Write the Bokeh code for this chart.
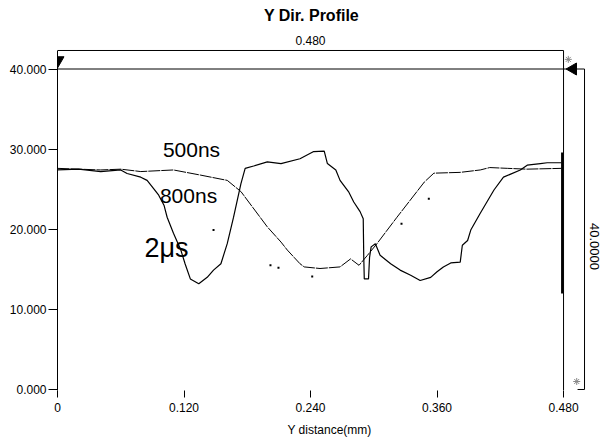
import math
from bokeh.plotting import figure
from bokeh.models import FixedTicker, Label, Range1d, ColumnDataSource
from bokeh.core.properties import value
from bokeh.embed import file_html
from bokeh.resources import INLINE

# ---- data ----
x_ticks = [0, 0.12, 0.24, 0.36, 0.48]
x_tick_labels = ["0", "0.120", "0.240", "0.360", "0.480"]
y_ticks = [0, 10, 20, 30, 40]
y_tick_labels = ["0.000", "10.000", "20.000", "30.000", "40.000"]

solid_x = [0.000, 0.020, 0.041, 0.060, 0.066, 0.079, 0.085, 0.091, 0.096, 0.101,
           0.104, 0.110, 0.117, 0.121, 0.126, 0.134, 0.142, 0.148, 0.155, 0.161,
           0.167, 0.174, 0.178, 0.186, 0.199, 0.212, 0.230, 0.243, 0.253, 0.256,
           0.264, 0.268, 0.276, 0.281, 0.287, 0.290, 0.2905, 0.291, 0.295, 0.296,
           0.2975, 0.3015, 0.306, 0.316, 0.325, 0.335, 0.344, 0.354, 0.360, 0.366,
           0.373, 0.382, 0.384, 0.389, 0.392, 0.401, 0.414, 0.423, 0.439, 0.4455,
           0.458, 0.4645, 0.478]
solid_y = [27.4, 27.5, 27.2, 27.4, 26.96, 26.5, 26.1, 25.1, 24.25, 23.0,
           21.5, 19.5, 17.4, 15.7, 13.8, 13.2, 14.0, 14.9, 15.7, 18.2,
           21.5, 25.7, 27.6, 27.9, 28.4, 28.2, 28.8, 29.7, 29.75, 28.2,
           27.4, 26.1, 24.7, 23.4, 22.2, 21.3, 16.5, 13.8, 13.8, 16.5,
           17.8, 18.2, 16.75, 15.7, 14.9, 14.25, 13.6, 14.0, 14.7, 15.3,
           15.8, 15.9, 18.0, 18.6, 19.9, 22.0, 24.9, 26.5, 27.4, 28.0,
           28.2, 28.3, 28.3]

dash_x = [0.000, 0.041, 0.060, 0.079, 0.110, 0.136, 0.161, 0.174, 0.199, 0.212,
          0.218, 0.230, 0.234, 0.249, 0.268, 0.278, 0.286, 0.294, 0.303, 0.322,
          0.348, 0.357, 0.382, 0.401, 0.410, 0.427, 0.445, 0.478]
dash_y = [27.6, 27.4, 27.5, 27.2, 27.4, 26.75, 26.1, 24.7, 20.3, 18.4,
          17.4, 15.7, 15.3, 15.1, 15.3, 16.3, 15.5, 16.75, 18.2, 21.5,
          25.9, 27.0, 27.1, 27.4, 27.7, 27.6, 27.5, 27.6]

speck_x = [0.148, 0.202, 0.2096, 0.2416, 0.3522, 0.3263]
speck_y = [19.9, 15.5, 15.2, 14.1, 23.8, 20.7]

curve_names = ["500ns", "800ns", "2μs"]
name_x = [0.1271, 0.1243, 0.1034]
name_y = [29.9, 24.2, 17.6]
name_size = ["21px", "21px", "27px"]

# profile geometry (scan length and height window)
scan_len = 0.480
h_max = 40.0
top_dim_y = 42.31
right_dim_x = 0.4999
end_seg_x = 0.4786
end_seg_y = [11.98, 29.58]

FONT = "Liberation Sans"

p = figure(width=601, height=439,
           x_range=Range1d(0, 0.5160), y_range=Range1d(-0.125, 48.55),
           output_backend="svg", toolbar_location=None,
           min_border_left=57, min_border_right=0,
           min_border_top=0, min_border_bottom=49)
p.outline_line_color = None
p.xgrid.grid_line_color = None
p.ygrid.grid_line_color = None
p.background_fill_color = "white"
p.border_fill_color = "white"

# left axis
ya = p.yaxis[0]
ya.ticker = FixedTicker(ticks=y_ticks)
ya.major_label_overrides = dict(zip(y_ticks, y_tick_labels))
ya.bounds = (-0.125, top_dim_y)
ya.axis_line_color = "black"
ya.axis_line_width = 1
ya.major_tick_out = 9
ya.major_tick_in = 0
ya.minor_tick_line_color = None
ya.major_tick_line_color = "black"
ya.major_label_standoff = 2
ya.major_label_text_font = FONT
ya.major_label_text_font_size = "12px"
ya.major_label_text_color = "black"

# bottom axis
xa = p.xaxis[0]
xa.ticker = FixedTicker(ticks=x_ticks)
xa.major_label_overrides = dict(zip(x_ticks, x_tick_labels))
xa.axis_line_color = None
xa.major_tick_out = 7
xa.major_tick_in = 0
xa.minor_tick_line_color = None
xa.major_tick_line_color = "black"
xa.major_label_standoff = 5
xa.major_label_text_font = FONT
xa.major_label_text_font_size = "12px"
xa.major_label_text_color = "black"
xa.axis_label = "Y distance(mm)"
xa.axis_label_text_font = FONT
xa.axis_label_text_font_size = "12px"
xa.axis_label_text_font_style = "normal"
xa.axis_label_text_color = "black"
xa.axis_label_standoff = 8

# frame lines of the profile window
p.segment(x0=[0, 0, scan_len, right_dim_x, 0.4933],
          y0=[top_dim_y, h_max, top_dim_y, h_max, 0],
          x1=[scan_len, right_dim_x, scan_len, right_dim_x, right_dim_x],
          y1=[top_dim_y, h_max, -0.125, 0, 0],
          line_color="black", line_width=1)
p.segment(x0=[end_seg_x], y0=[end_seg_y[0]], x1=[end_seg_x], y1=[end_seg_y[1]],
          line_color="black", line_width=2)

# markers
p.scatter(x=[0], y=[41.06], marker="inverted_triangle", size=13,
          fill_color="black", line_color="black")
p.scatter(x=[0.489], y=[40.0], marker="triangle", size=12, angle=math.pi / 2,
          fill_color="black", line_color="black")
p.scatter(x=[0.4845, 0.4925], y=[41.2, 1.0], marker="asterisk", size=7,
          line_color="#888888", line_width=1)

# profiles
p.line(dash_x, dash_y, line_color="black", line_width=1, line_dash="12 1")
p.line(solid_x, solid_y, line_color="black", line_width=1.2)
p.scatter(speck_x, speck_y, marker="square", size=2, fill_color="black", line_color=None)

# curve names
src = ColumnDataSource(dict(x=name_x, y=name_y, t=curve_names, s=name_size))
p.text(x="x", y="y", text="t", source=src, text_font=value(FONT),
       text_font_size="s", text_align="center", text_baseline="middle",
       text_color="black")

# title and dimension texts
p.text(x=[0.2409], y=[46.68], text=["Y Dir. Profile"], text_font=value(FONT),
       text_font_size="16px", text_font_style="bold", text_align="center",
       text_baseline="middle", text_color="black")
p.text(x=[0.24], y=[43.5], text=["0.480"], text_font=value(FONT),
       text_font_size="12px", text_align="center", text_baseline="middle",
       text_color="black")
p.text(x=[0.5094], y=[17.85], text=["40.0000"], text_font=value(FONT),
       text_font_size="13px", text_align="center", text_baseline="middle",
       angle=-math.pi / 2, text_color="black")

p.add_layout(Label(x=-0.0166, y=44.18, text="H(um)", text_font=FONT,
                   text_font_size="12px", text_align="center",
                   text_baseline="middle", text_color="black"))

open("out.html", "w").write(file_html(p, INLINE))
